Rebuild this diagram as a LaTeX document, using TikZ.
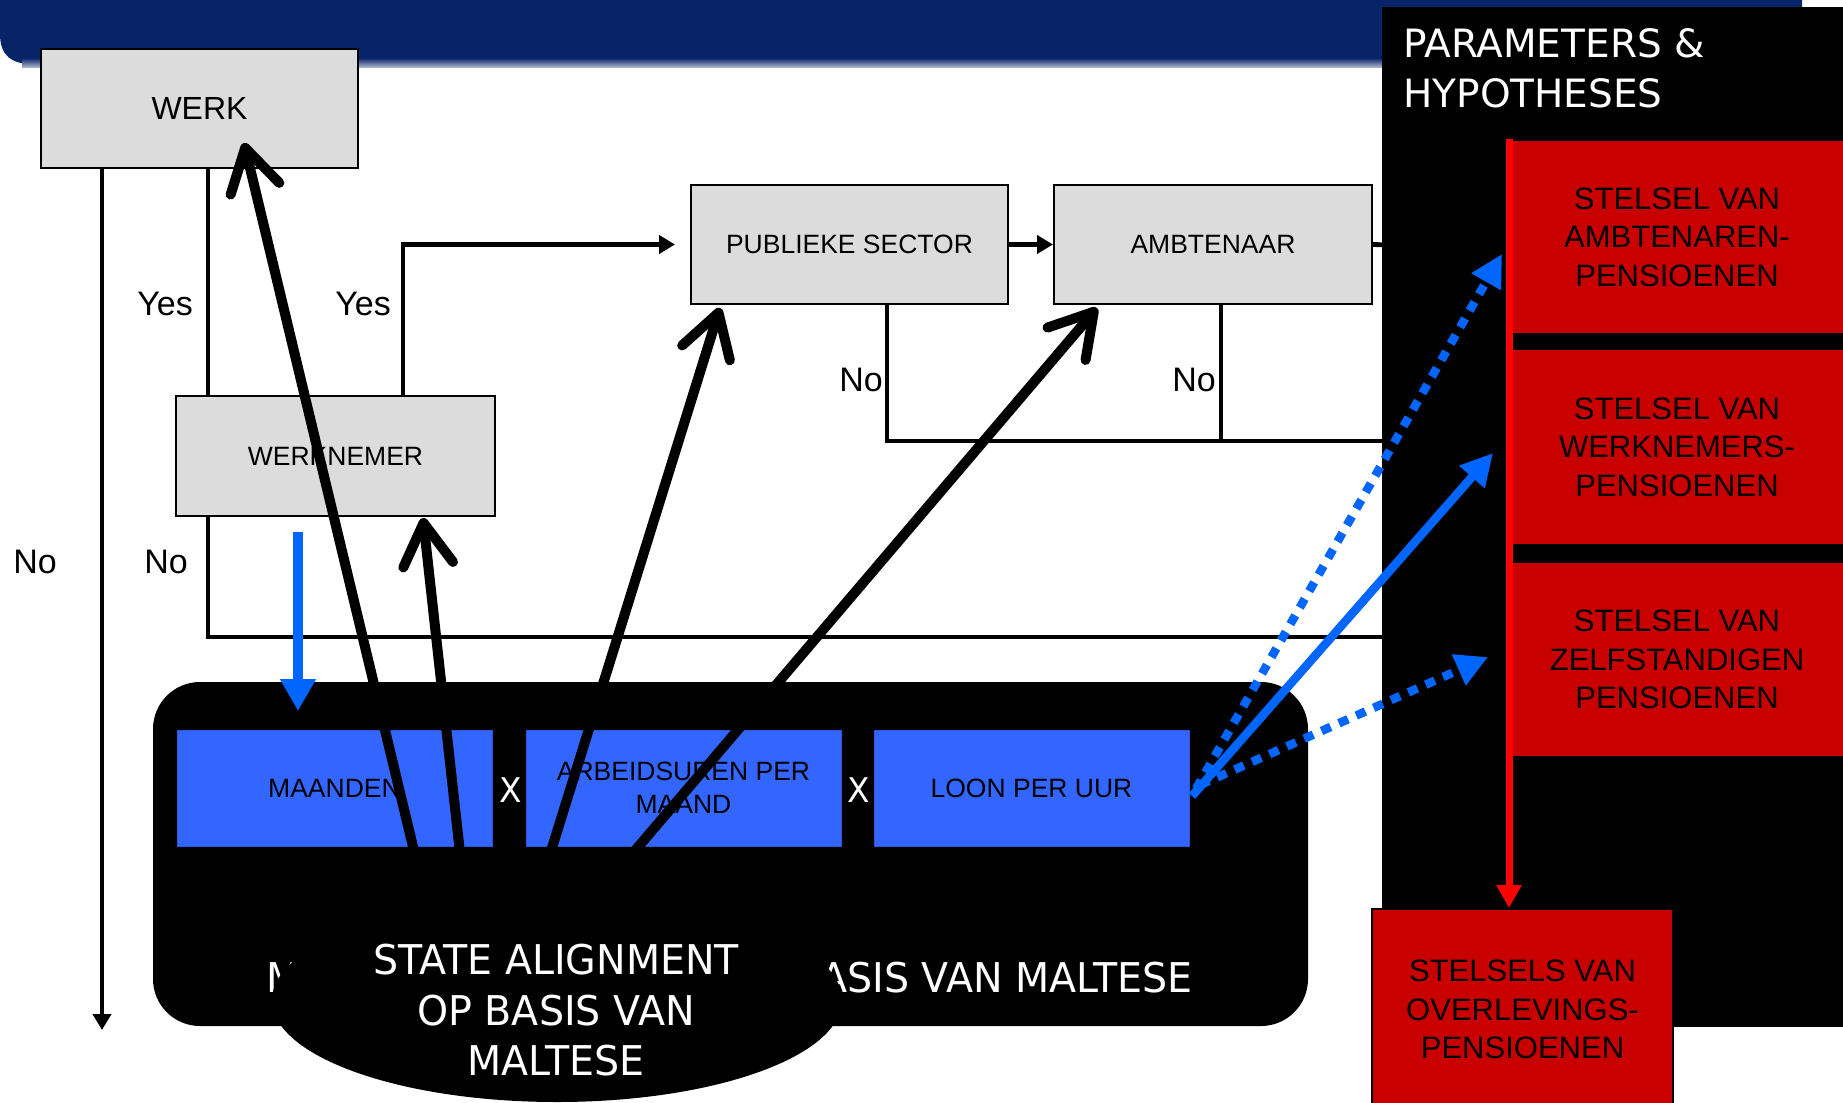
\documentclass[tikz,border=0pt]{standalone}
\usepackage{fontspec}
\setmainfont{Liberation Sans}
\newfontfamily\tah{DejaVu Sans}[FakeStretch=0.965]
\newfontfamily\dvs{DejaVu Sans}
\usetikzlibrary{arrows.meta,shapes.geometric}
\definecolor{navy}{RGB}{7,36,104}
\definecolor{boxgray}{RGB}{220,220,220}
\definecolor{bblue}{RGB}{51,102,255}
\definecolor{arrblue}{RGB}{0,102,255}
\definecolor{dred}{RGB}{200,0,0}
\definecolor{bred}{RGB}{255,0,0}
\begin{document}
\begin{tikzpicture}[x=0.5pt,y=-0.5pt,
  graybox/.style={draw=black,line width=1pt,fill=boxgray,minimum height=59.75pt,inner sep=0pt,font=\fontsize{13.25}{16}\selectfont},
  bluebox/.style={fill=bblue,draw=bblue!85!black,line width=0.5pt,minimum width=157.5pt,minimum height=58pt,inner sep=0pt,align=center,font=\fontsize{13.25}{16.5}\selectfont},
  redbox/.style={fill=dred,minimum width=166pt,inner sep=0pt,align=center,font=\fontsize{15.5}{19.25}\selectfont},
  conn/.style={line width=2.4pt},
  smalltip/.style={-{Triangle[length=8pt,width=9pt]}},
  lab/.style={inner sep=0pt,font=\fontsize{17}{20}\selectfont},
  bigarrow/.style={line width=5pt,-{Straight Barb[length=21pt,width=25pt,round]}},
  bluearrow/.style={arrblue,line width=4.3pt,-{Triangle[length=16pt,width=16pt]}},
  bluedot/.style={bluearrow,dash pattern=on 5pt off 4.5pt},
  whitetext/.style={text=white,inner sep=0pt,font=\tah\fontsize{20.5}{25.25}\selectfont}
]
\useasboundingbox (0,0) rectangle (1843,1103);
\fill[white] (0,0) rectangle (1843,1103);

% banner
\fill[navy] (0,0) -- (1802,0) -- (1802,64) -- (32,64) .. controls (12,64) and (0,56) .. (0,34) -- cycle;
\shade[top color=navy, bottom color=navy!35!white] (22,58) rectangle (1802,67);

% coordinates
\coordinate (x102) at (102,0);
\coordinate (x208) at (208,0);
\coordinate (x403) at (403,0);
\coordinate (x887) at (887,0);
\coordinate (x1221) at (1221,0);
\coordinate (c1) at (102,1030);
\coordinate (r245) at (1390,245);
\coordinate (r441) at (1390,441);
\coordinate (r637) at (1390,637);

% gray boxes
\node[graybox,minimum width=158.5pt,font=\fontsize{16}{19}\selectfont] (werk) at (199.5,108.5) {WERK};
\node[graybox,minimum width=159.5pt] (wn) at (335.5,456) {WERKNEMER};
\node[graybox,minimum width=158.5pt] (pub) at (849.5,244.5) {PUBLIEKE SECTOR};
\node[graybox,minimum width=159pt] (amb) at (1213,244.5) {AMBTENAAR};

% thin connectors
\draw[conn,smalltip] (werk.south -| x102) -- (c1);
\draw[conn] (werk.south -| x208) -- (wn.north -| x208);
\draw[conn,smalltip] (wn.north -| x403) |- ([xshift=-7.5pt]pub.west);
\draw[conn,smalltip] (pub.east) -- (amb.west);
\draw[conn] (amb.east) -- (r245);
\draw[conn] (pub.south -| x887) |- (r441);
\draw[conn] (amb.south -| x1221) -- (x1221 |- r441);
\draw[conn] (wn.south -| x208) |- (r637);

% labels
\node[lab] (yes1) at (165,304) {Yes};
\node[lab] (yes2) at (363,304) {Yes};
\node[lab] (no1) at (35,562) {No};
\node[lab] (no2) at (166,562) {No};
\node[lab] (no3) at (861,380) {No};
\node[lab] (no4) at (1194,380) {No};

% calculation block
\node[fill=black,rounded corners=23.5pt,minimum width=577.5pt,minimum height=172pt,inner sep=0pt] (calc) at (730.5,854) {};
\node[whitetext,anchor=base west] (mtxt) at (266,992) {M};
\node[whitetext,anchor=base east] (basistxt) at (1193,992) {ASIS VAN MALTESE};
\node[bluebox] (maanden) at (334.5,788) {MAANDEN};
\node[bluebox] (arb) at (683.5,788) {ARBEIDSUREN PER\\MAAND};
\node[bluebox] (loon) at (1031.5,788) {LOON PER UUR};
\node[whitetext,font=\tah\fontsize{17}{20}\selectfont] (x1) at (511,790) {X};
\node[whitetext,font=\tah\fontsize{17}{20}\selectfont] (x2) at (859,790) {X};

% right panel
\node[fill=black,minimum width=230.5pt,minimum height=510pt,inner sep=0pt] (panel) at (1612.5,517) {};
\node[text=white,inner sep=0pt,anchor=west,align=left,font=\dvs\fontsize{19.5}{25}\selectfont] (ptitle) at (1403,68) {PARAMETERS \&\\HYPOTHESES};
\node[redbox,minimum height=96pt] (r1) at (1677,237) {STELSEL VAN\\AMBTENAREN-\\PENSIOENEN};
\node[redbox,minimum height=97pt] (r2) at (1677,447) {STELSEL VAN\\WERKNEMERS-\\PENSIOENEN};
\node[redbox,minimum height=96.5pt] (r3) at (1677,659.5) {STELSEL VAN\\ZELFSTANDIGEN\\PENSIOENEN};
\node[redbox,draw=black,line width=1pt,minimum width=150.5pt,minimum height=100.5pt] (ov) at (1522.5,1009.5) {STELSELS VAN\\OVERLEVINGS-\\PENSIOENEN};
\coordinate (redtop) at (1509,139);
\draw[bred,line width=3.5pt,-{Triangle[length=11.5pt,width=12pt]}] (redtop) -- (redtop |- ov.north);

% blue down arrow
\coordinate (bd1) at (298,532);
\coordinate (bd2) at (298,711);
\draw[arrblue,line width=5pt,-{Triangle[length=16pt,width=17pt]}] (bd1) -- (bd2);

% black thick arrows
\coordinate (s1) at (421,880);
\coordinate (s2) at (463,880);
\coordinate (s3) at (542,880);
\coordinate (s4) at (610,880);
\coordinate (t1) at (244,143);
\coordinate (t2) at (423,518);
\coordinate (t3) at (720,308);
\coordinate (t4) at (1097,308);
\draw[bigarrow] (s1) -- (t1);
\draw[bigarrow] (s2) -- (t2);
\draw[bigarrow] (s3) -- (t3);
\draw[bigarrow] (s4) -- (t4);

% cloud
\node[ellipse,fill=black,minimum width=285pt,minimum height=102pt,inner sep=0pt] (cloud) at (557,1000) {};
\node[whitetext,align=center] (cloudtxt) at (556,1010.5) {STATE ALIGNMENT\\OP BASIS VAN\\MALTESE};

% blue arrows to the pension systems
\coordinate (sb1) at (1196,789);
\coordinate (sb2) at (1192,796);
\coordinate (sb3) at (1200,785);
\coordinate (tb1) at (1502,254);
\coordinate (tb2) at (1493,453);
\coordinate (tb3) at (1488,657);
\draw[bluedot] (sb1) -- (tb1);
\draw[bluearrow] (sb2) -- (tb2);
\draw[bluedot] (sb3) -- (tb3);
\end{tikzpicture}
\end{document}
